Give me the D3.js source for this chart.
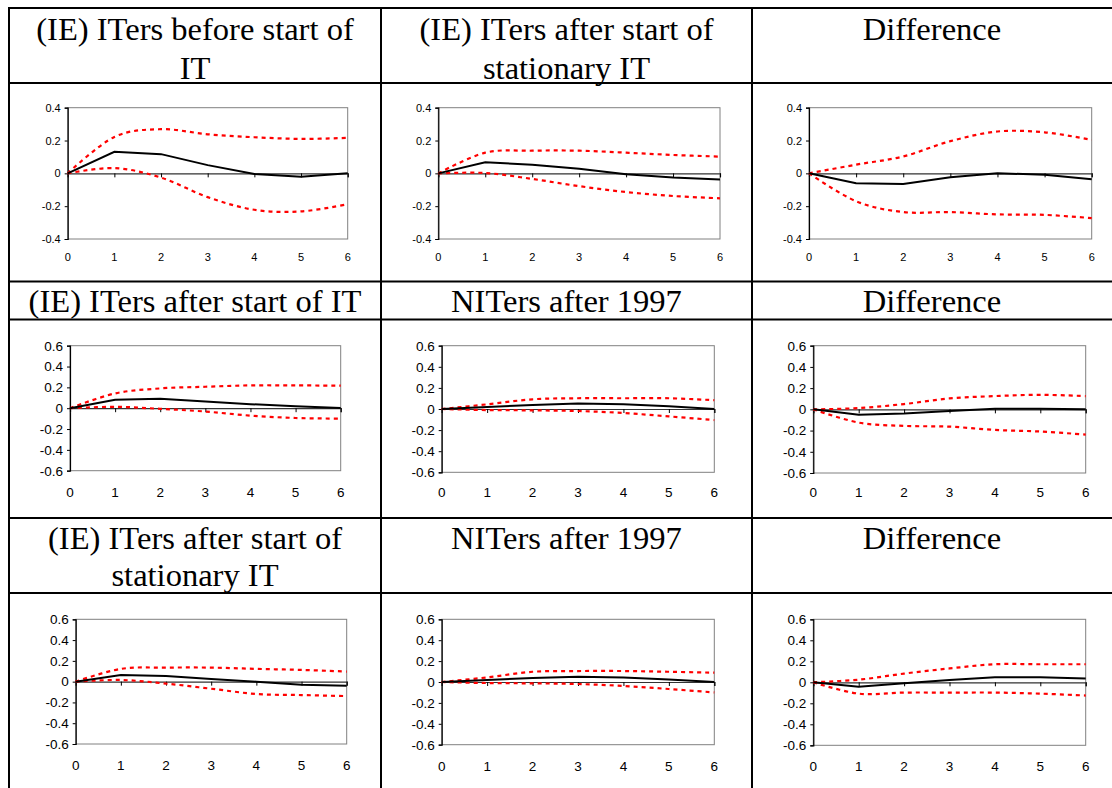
<!DOCTYPE html>
<html>
<head>
<meta charset="utf-8">
<script src="https://cdn.jsdelivr.net/npm/d3@7"></script>
<style>
  html, body { margin: 0; padding: 0; background: #fff; }
  svg { display: block; }
</style>
</head>
<body>
<svg id="chart" width="1112" height="788"></svg>
<script>
// ---------- DATA ----------
const horizons = [0, 1, 2, 3, 4, 5, 6];

const yTicksRow1 = [-0.4, -0.2, 0, 0.2, 0.4];
const yTicksRows23 = [-0.6, -0.4, -0.2, 0, 0.2, 0.4, 0.6];

// Row 1
const irfBeforeIT      = [0, 0.131, 0.117, 0.05, -0.004, -0.02, 0];
const upperBeforeIT    = [0, 0.222, 0.269, 0.238, 0.22, 0.21, 0.216];
const lowerBeforeIT    = [0, 0.032, -0.026, -0.145, -0.222, -0.232, -0.188];

const irfAfterStatIT_a   = [0, 0.068, 0.052, 0.028, -0.006, -0.026, -0.038];
const upperAfterStatIT_a = [0, 0.126, 0.138, 0.138, 0.126, 0.112, 0.102];
const lowerAfterStatIT_a = [0, 0.002, -0.034, -0.078, -0.114, -0.138, -0.152];

const irfDiff1   = [0, -0.06, -0.065, -0.024, 0, -0.008, -0.036];
const upperDiff1 = [0, 0.053, 0.103, 0.196, 0.255, 0.25, 0.204];
const lowerDiff1 = [0, -0.17, -0.236, -0.236, -0.25, -0.253, -0.273];

// Row 2
const irfAfterIT   = [0, 0.081, 0.09, 0.065, 0.039, 0.019, 0.003];
const upperAfterIT = [0, 0.142, 0.19, 0.206, 0.219, 0.219, 0.216];
const lowerAfterIT = [0, 0.013, -0.006, -0.032, -0.071, -0.094, -0.1];

const irfNIT_a   = [0, 0.019, 0.038, 0.051, 0.044, 0.025, 0];
const upperNIT_a = [0, 0.044, 0.092, 0.102, 0.102, 0.102, 0.083];
const lowerNIT_a = [0, -0.01, -0.013, -0.019, -0.038, -0.07, -0.105];

const irfDiff2   = [0, -0.05, -0.04, -0.016, 0.006, 0.006, 0];
const upperDiff2 = [0, 0.012, 0.05, 0.103, 0.125, 0.137, 0.125];
const lowerDiff2 = [0, -0.125, -0.156, -0.163, -0.194, -0.209, -0.238];

// Row 3
const irfAfterStatIT_b   = [0, 0.065, 0.055, 0.026, 0, -0.029, -0.039];
const upperAfterStatIT_b = [0, 0.123, 0.135, 0.135, 0.123, 0.113, 0.097];
const lowerAfterStatIT_b = [0, 0.016, -0.019, -0.068, -0.119, -0.129, -0.139];

const irfNIT_b   = [0, 0.019, 0.038, 0.05, 0.044, 0.025, 0];
const upperNIT_b = [0, 0.044, 0.098, 0.105, 0.105, 0.098, 0.089];
const lowerNIT_b = [0, -0.01, -0.013, -0.019, -0.038, -0.067, -0.1];

const irfDiff3   = [0, -0.043, -0.009, 0.022, 0.049, 0.049, 0.037];
const upperDiff3 = [0, 0.025, 0.083, 0.132, 0.172, 0.172, 0.172];
const lowerDiff3 = [0, -0.108, -0.098, -0.098, -0.098, -0.108, -0.126];

// Header texts (each entry = lines)
const headersRow1 = [["(IE) ITers before start of", "IT"], ["(IE) ITers after start of", "stationary IT"], ["Difference"]];
const headersRow2 = [["(IE) ITers after start of IT"], ["NITers after 1997"], ["Difference"]];
const headersRow3 = [["(IE) ITers after start of", "stationary IT"], ["NITers after 1997"], ["Difference"]];

// ---------- LAYOUT ----------
const svg = d3.select("#chart");
const colX = [9, 381, 752, 1112];
const rowY = [8, 83, 281.5, 319.5, 518, 593, 788];

// table lines
const tbl = svg.append("g");
[0, 1, 2, 3, 4, 5].forEach(i => {
  tbl.append("line").attr("x1", colX[0] - 1).attr("x2", 1112).attr("y1", rowY[i]).attr("y2", rowY[i])
    .attr("stroke", "#000").attr("stroke-width", 2);
});
[0, 1, 2].forEach(i => {
  tbl.append("line").attr("x1", colX[i]).attr("x2", colX[i]).attr("y1", rowY[0] - 1).attr("y2", 788)
    .attr("stroke", "#000").attr("stroke-width", 2);
});

// header text
function header(lines, col, baselines) {
  const cx = (colX[col] + colX[col + 1]) / 2;
  lines.forEach((t, i) => {
    svg.append("text")
      .attr("transform", `translate(${cx},${baselines[i]}) scale(1.05,1)`)
      .attr("text-anchor", "middle")
      .attr("font-family", "'Liberation Serif', 'Times New Roman', serif")
      .attr("font-size", 31)
      .attr("fill", "#000")
      .text(t);
  });
}
headersRow1.forEach((h, c) => header(h, c, [39.5, 78.5]));
headersRow2.forEach((h, c) => header(h, c, [311.5]));
headersRow3.forEach((h, c) => header(h, c, [549, 585.5]));

// panels
const panels = [
  {irf: irfBeforeIT, up: upperBeforeIT, lo: lowerBeforeIT, ticks: yTicksRow1, box: [67.7, 107.7, 347.7, 239], fs: 11, lab: 257},
  {irf: irfAfterStatIT_a, up: upperAfterStatIT_a, lo: lowerAfterStatIT_a, ticks: yTicksRow1, box: [438.3, 107.7, 720, 239], fs: 11, lab: 257},
  {irf: irfDiff1, up: upperDiff1, lo: lowerDiff1, ticks: yTicksRow1, box: [809, 107.7, 1091.7, 239], fs: 11, lab: 257},
  {irf: irfAfterIT, up: upperAfterIT, lo: lowerAfterIT, ticks: yTicksRows23, box: [70, 345.7, 340.7, 470.7], fs: 13.5, lab: 492},
  {irf: irfNIT_a, up: upperNIT_a, lo: lowerNIT_a, ticks: yTicksRows23, box: [441.7, 345.7, 714.3, 472.3], fs: 13.5, lab: 492},
  {irf: irfDiff2, up: upperDiff2, lo: lowerDiff2, ticks: yTicksRows23, box: [813.3, 345.7, 1085.7, 473], fs: 13.5, lab: 492},
  {irf: irfAfterStatIT_b, up: upperAfterStatIT_b, lo: lowerAfterStatIT_b, ticks: yTicksRows23, box: [75.7, 619.3, 346.7, 744], fs: 13.5, lab: 765},
  {irf: irfNIT_b, up: upperNIT_b, lo: lowerNIT_b, ticks: yTicksRows23, box: [441.7, 619.3, 714.3, 744.7], fs: 13.5, lab: 766},
  {irf: irfDiff3, up: upperDiff3, lo: lowerDiff3, ticks: yTicksRows23, box: [813.3, 619.3, 1085.7, 745.3], fs: 13.5, lab: 766}
];

panels.forEach(p => {
  const [x0, y0, x1, y1] = p.box;
  const ext = d3.extent(p.ticks);
  const x = d3.scaleLinear().domain([0, 6]).range([x0, x1]);
  const y = d3.scaleLinear().domain(ext).range([y1, y0]);
  const g = svg.append("g");

  // plot area border (gray)
  g.append("rect").attr("x", x0).attr("y", y0).attr("width", x1 - x0).attr("height", y1 - y0)
    .attr("fill", "none").attr("stroke", "#808080").attr("stroke-width", 1);

  // y axis
  const yAxis = d3.axisLeft(y).tickValues(p.ticks).tickSize(3).tickPadding(4)
    .tickFormat(v => v === 0 ? "0" : String(v));
  const ya = g.append("g").attr("transform", `translate(${x0},0)`).call(yAxis);
  ya.select(".domain").attr("stroke", "#000").attr("stroke-width", 1.2);
  ya.selectAll(".tick line").attr("stroke", "#000");
  ya.selectAll("text").attr("font-family", "'Liberation Sans', Arial, sans-serif")
    .attr("font-size", p.fs).attr("fill", "#000");

  // x axis at zero
  const xAxis = d3.axisBottom(x).tickValues(horizons).tickSize(4).tickFormat("");
  const xa = g.append("g").attr("transform", `translate(0,${y(0)})`).call(xAxis);
  xa.select(".domain").attr("stroke", "#333").attr("stroke-width", 1.2);
  xa.selectAll(".tick line").attr("stroke", "#000");

  // x labels at bottom
  g.selectAll("text.xl").data(horizons).enter().append("text")
    .attr("class", "xl")
    .attr("x", d => x(d)).attr("y", p.lab)
    .attr("dy", "0.35em")
    .attr("text-anchor", "middle")
    .attr("font-family", "'Liberation Sans', Arial, sans-serif")
    .attr("font-size", p.fs).attr("fill", "#000")
    .text(d => d);

  const smooth = d3.line().x((d, i) => x(horizons[i])).y(d => y(d)).curve(d3.curveCatmullRom.alpha(0));
  const straight = d3.line().x((d, i) => x(horizons[i])).y(d => y(d));

  [p.up, p.lo].forEach(arr => {
    g.append("path").attr("d", smooth(arr)).attr("fill", "none")
      .attr("stroke", "#ff0000").attr("stroke-width", 2.2).attr("stroke-dasharray", "4,4");
  });
  g.append("path").attr("d", straight(p.irf)).attr("fill", "none")
    .attr("stroke", "#000").attr("stroke-width", 2);
});
</script>
</body>
</html>
